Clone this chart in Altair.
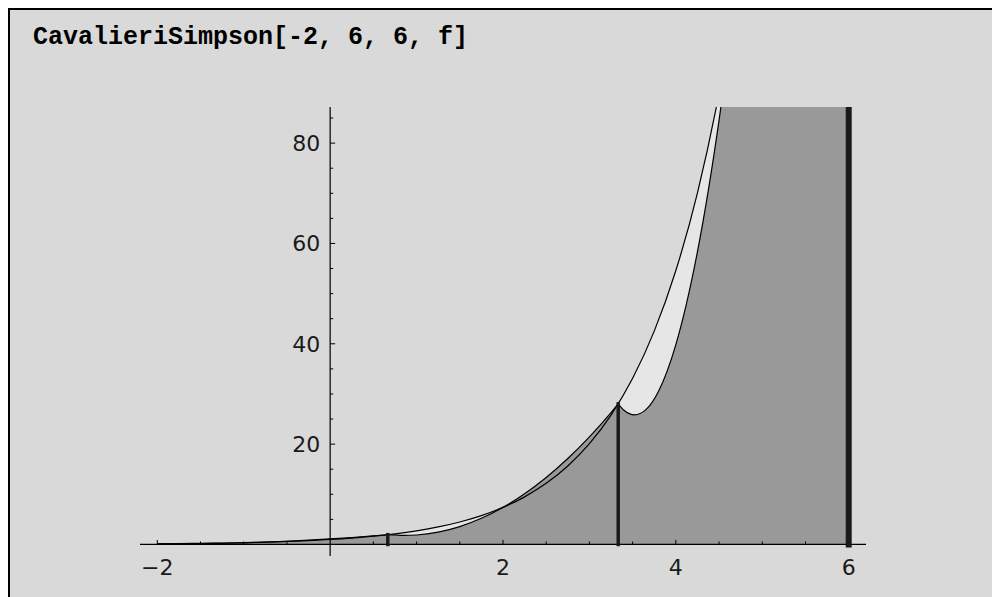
import altair as alt
import pandas as pd

TITLE = "CavalieriSimpson[-2, 6, 6, f]"

f_x = [-2.0, -1.75, -1.5, -1.25, -1.0, -0.75, -0.5, -0.25, 0.0, 0.25, 0.5, 0.75,
       1.0, 1.25, 1.5, 1.75, 2.0, 2.25, 2.5, 2.75, 3.0, 3.25, 3.5, 3.75, 4.0,
       4.25, 4.5, 4.75, 5.0, 5.5, 6.0]
f_y = [0.14, 0.17, 0.22, 0.29, 0.37, 0.47, 0.61, 0.78, 1.0, 1.28, 1.65, 2.12,
       2.72, 3.49, 4.48, 5.75, 7.39, 9.49, 12.18, 15.64, 20.09, 25.79, 33.12, 42.52, 54.6,
       70.1, 90.0, 115.6, 148.4, 244.7, 403.4]

# Simpson parabolic arcs, one per panel
p1_x = [-2.0, -1.8, -1.5, -1.25, -1.0, -0.75, -0.5, -0.25, 0.0, 0.25, 0.5, 0.667]
p1_y = [0.135, 0.125, 0.153, 0.218, 0.320, 0.459, 0.635, 0.848, 1.099, 1.386, 1.711, 1.948]
p2_x = [0.667, 0.856, 1.0, 1.25, 1.5, 1.75, 2.0, 2.25, 2.5, 2.75, 3.0, 3.25, 3.333]
p2_y = [1.948, 1.795, 1.883, 2.458, 3.567, 5.211, 7.389, 10.10, 13.35, 17.13, 21.45, 26.30, 28.03]
p3_x = [3.333, 3.4, 3.523, 3.65, 3.8, 4.0, 4.25, 4.5, 4.75, 5.0, 5.5, 6.0]
p3_y = [28.03, 26.74, 25.83, 26.82, 30.56, 39.85, 58.37, 84.60, 118.5, 160.1, 266.4, 403.4]

# partition nodes (vertical segments)
inner_node_x = [0.667, 3.333]
inner_node_y = [1.948, 28.03]
end_node_x = [6.0]
end_node_y = [403.4]

# axes
x_range = [-2.2, 6.2]
y_range = [-2.3, 87.2]
x_major = [-2, 2, 4, 6]
x_major_labels = ["\u22122", "2", "4", "6"]
x_minor = [-1.5, -1, -0.5, 0.5, 1, 1.5, 2.5, 3, 3.5, 4.5, 5, 5.5]
y_major = [20, 40, 60, 80]
y_major_labels = ["20", "40", "60", "80"]
y_minor = [5, 10, 15, 25, 30, 35, 45, 50, 55, 65, 70, 75, 85]

f_df = pd.DataFrame({"x": f_x, "y": f_y, "zero": 0.0})
p_df = pd.concat([
    pd.DataFrame({"x": p1_x, "y": p1_y, "panel": "1"}),
    pd.DataFrame({"x": p2_x, "y": p2_y, "panel": "2"}),
    pd.DataFrame({"x": p3_x, "y": p3_y, "panel": "3"}),
], ignore_index=True)
p_df["zero"] = 0.0
inner_df = pd.DataFrame({"x": inner_node_x, "y": inner_node_y, "zero": 0.0})
end_df = pd.DataFrame({"x": end_node_x, "y": end_node_y, "zero": 0.0})
xmaj_df = pd.DataFrame({"x": x_major, "label": x_major_labels, "zero": 0.0})
xmin_df = pd.DataFrame({"x": x_minor, "zero": 0.0})
ymaj_df = pd.DataFrame({"y": y_major, "label": y_major_labels, "zero": 0.0})
ymin_df = pd.DataFrame({"y": y_minor, "zero": 0.0})
xaxis_df = pd.DataFrame({"x": [x_range[0]], "x2": [x_range[1]], "y": [0.0]})
yaxis_df = pd.DataFrame({"y": [y_range[0]], "y2": [y_range[1]], "x": [0.0]})
title_df = pd.DataFrame({"text": [TITLE]})
one_df = pd.DataFrame({"a": [0]})

xs = alt.Scale(domain=x_range, nice=False, zero=False)
ys = alt.Scale(domain=y_range, nice=False, zero=False)


def X(f="x:Q"):
    return alt.X(f, scale=xs, axis=None)


def Y(f="y:Q"):
    return alt.Y(f, scale=ys, axis=None)


light = alt.Chart(f_df).mark_area(color="#e6e6e6", opacity=1, clip=True,
                                   interpolate="monotone", orient="vertical").encode(
    x=X(), y=Y(), y2="zero:Q")
dark = alt.Chart(p_df).mark_area(color="#999999", opacity=1, clip=True,
                                  interpolate="monotone", orient="vertical").encode(
    x=X(), y=Y(), y2="zero:Q", detail="panel:N")
f_line = alt.Chart(f_df).mark_line(color="black", strokeWidth=1.2, clip=True,
                                   interpolate="monotone").encode(x=X(), y=Y())
p_line = alt.Chart(p_df).mark_line(color="black", strokeWidth=1.2, clip=True,
                                   interpolate="monotone").encode(x=X(), y=Y(), detail="panel:N")

x_axis = alt.Chart(xaxis_df).mark_rule(color="black", strokeWidth=1.2).encode(
    x=X(), x2="x2:Q", y=Y())
y_axis = alt.Chart(yaxis_df).mark_rule(color="black", strokeWidth=1.2).encode(
    y=Y(), y2="y2:Q", x=X())

xmaj_ticks = alt.Chart(xmaj_df).mark_rule(color="black", strokeWidth=1, y2Offset=-4.5).encode(
    x=X(), y=Y("zero:Q"), y2="zero:Q")
xmin_ticks = alt.Chart(xmin_df).mark_rule(color="black", strokeWidth=1, y2Offset=-3).encode(
    x=X(), y=Y("zero:Q"), y2="zero:Q")
ymaj_ticks = alt.Chart(ymaj_df).mark_rule(color="black", strokeWidth=1, x2Offset=5).encode(
    y=Y(), x=X("zero:Q"), x2="zero:Q")
ymin_ticks = alt.Chart(ymin_df).mark_rule(color="black", strokeWidth=1, x2Offset=3).encode(
    y=Y(), x=X("zero:Q"), x2="zero:Q")

inner_nodes = alt.Chart(inner_df).mark_rule(color="#1a1a1a", strokeWidth=3.5,
                                            strokeCap="square", clip=True).encode(
    x=X(), y=Y("zero:Q"), y2="y:Q")
end_nodes = alt.Chart(end_df).mark_rule(color="#1a1a1a", strokeWidth=6,
                                        strokeCap="square", clip=True).encode(
    x=X(), y=Y("zero:Q"), y2="y:Q")

x_labels = alt.Chart(xmaj_df).mark_text(font="DejaVu Sans", fontSize=22, color="#1a1a1a",
                                        baseline="alphabetic", dy=30.5).encode(
    x=X(), y=Y("zero:Q"), text="label:N")
y_labels = alt.Chart(ymaj_df).mark_text(font="DejaVu Sans", fontSize=22, color="#1a1a1a",
                                        align="right", baseline="alphabetic", dx=-10, dy=8).encode(
    y=Y(), x=X("zero:Q"), text="label:N")

# notebook-cell heading (the input line)
title = alt.Chart(title_df).mark_text(font="Liberation Mono", fontSize=25, fontWeight="bold",
                                      color="black", align="left", baseline="alphabetic").encode(
    x=alt.value(-107), y=alt.value(-63.5), text="text:N")

# frame of the notebook cell (top and left edges)
frame_left = alt.Chart(one_df).mark_rule(color="black", strokeWidth=2).encode(
    x=alt.value(-131), y=alt.value(-99), y2=alt.value(490))
frame_top = alt.Chart(one_df).mark_rule(color="black", strokeWidth=2).encode(
    x=alt.value(-132), x2=alt.value(852), y=alt.value(-98))

chart = alt.layer(
    light, dark, f_line, p_line, x_axis, y_axis,
    xmaj_ticks, xmin_ticks, ymaj_ticks, ymin_ticks,
    inner_nodes, end_nodes, x_labels, y_labels, title, frame_left, frame_top,
).properties(
    width=726, height=449,
    padding={"left": 132, "top": 99, "right": 126, "bottom": 41},
    autosize=alt.AutoSizeParams(type="none"),
    background="#d9d9d9",
).configure_view(strokeWidth=0)

chart.save("out.html", embed_options={"renderer": "svg", "actions": False})
